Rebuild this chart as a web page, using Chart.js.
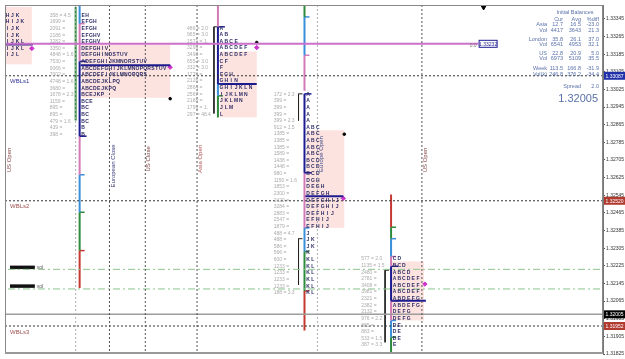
<!DOCTYPE html>
<html><head><meta charset="utf-8">
<script src="https://cdn.jsdelivr.net/npm/chart.js@4.4.1/dist/chart.umd.min.js"></script>
<style>html,body{margin:0;padding:0;background:#fff;overflow:hidden}canvas{display:block}</style>
</head><body>
<canvas id="c" width="625" height="359" style="width:625px;height:359px"></canvas>
<script>
// ================= DATA =================
const priceTicks = [1.33345,1.33265,1.33185,1.33105,1.33025,1.32945,1.32865,1.32785,1.32705,1.32625,1.32545,1.32465,1.32385,1.32305,1.32225,1.32145,1.32065,1.31985,1.31905,1.31825];
const priceMin = 1.31825, priceMax = 1.33408;

const levelNames  = ["WBLs1","WBLs2","WBLs3"];
const levelPrices = [1.33087,1.32520,1.31952];
const lastPrice   = 1.32005;
const volLevelNames  = ["vol","vol"];
const volLevelPrices = [1.32209,1.32120];
const volLabelPrices = [1.32218,1.32133];
const poolLinePrice  = 1.33232;
const poolLineLabel  = "1.33232";
const poolLineDiff   = "0.0";

const sessionNames = ["US Open","European Close","US Close","Asia Open","Europe Open","US Open"];
const sessionSlots = [1,105,141,193,314,419];
const sessionLabelPrices = [1.32705,1.32678,1.32710,1.32710,1.32732,1.32705];
const extraGridSlots = [71];

const rowStep = 0.0003;

const p1Letters = ["HJK","HIJK","IJK","IJK","IJKL","IJKL","IJL"];
const p1Top = 1.33363, p1Poc = 1.33229, p1VA = [1.33399,1.33139];

const p2Letters = ["EH","EFGH","EFGH","EFGHV","EFGHV","DEFGHIV","DEFGHINOSTUV","ADEFGHIJKMNORSTUV","ABCDEFGHIJKLMNOPQRSTUV","ABCDEFIJKLMNOPQRS","ABCDEJKLPQ","ABCDEJKPQ","BCEJKP","BCE","BC","BC","BC","B","B"];
const p2Vols = ["358 = 4.5","1699 =","2091 =","2186 =","3282 =","3350 =","4848 = 1.6","7530 =","9066 =","7002 =","4748 = 1.6","3680 =","1678 = 2.3","1159 =","895 =","895 =","479 = 1.6","439 =","398 ="];
const p2Top = 1.33363, p2Poc = 1.33135, p2VA = [1.33229,1.32987];

const p3Letters = ["A","AB","ABCE","ABCDEF","ABCDEF","CF","F","FGH","GHIN","GHIJKLN","IJKLMN","JKLMN","JLM","L"];
const p3Vols = ["486 = 2.0","965 = 3.0","1571 = 1.","3299 =","3498 =","655 = 3.0","332 = 3.0","1776 =","2126 =","2864 =","2567 =","2188 =","1796 = 1.","297 = 48.4"];
const p3Top = 1.33305, p3Poc = 1.33050, p3VA = [1.33197,1.32898];

const p4Letters = ["A","A","A","A","A","ABC","ABC","ABC","ABC","ABC","BCD","BCD","BCD","DGH","DEGH","DEFGH","DEFGHIJ","DEFGHIJ","DEFHIJ","EFHIJ","EFHIJ","J","JK","JK","K","KL","KL","KL","KL","KL","KL"];
const p4Vols = ["172 = 2.3","399 =","399 =","399 =","399 = 2.3","912 = 1.5","1385 =","1385 =","1385 =","1589 =","1438 =","1448 =","980 =","1150 = 1.6","1853 =","2300 =","2420 =","3284 =","2883 =","2547 =","1879 =","488 = 4.7","488 =","586 =","566 =","600 =","1233 =","1233 =","1233 =","1233 =","188 = 3.3"];
const p4Top = 1.33005, p4Poc = 1.32540, p4VA = [1.32840,1.32397];

const p5Letters = ["CD","BCD","ABCD","ABCDEF","ABCDEF","ABCDEF","ABDEFG","ABDEFG","DEFG","DEFG","DE","DE","DE","E"];
const p5Vols = ["577 = 2.0","1135 = 1.5","2480 =","2781 =","3408 =","3981 =","2321 =","2382 =","2132 =","976 = 2.2","885 =","883 =","533 = 1.5","387 = 3.3"];
const p5Top = 1.32258, p5Poc = 1.32066, p5VA = [1.32245,1.31977];

// period bars (price breaks, period keys)
const p2BarBreaks = [1.33408,1.33323,1.33153,1.32813,1.32638,1.32468,1.32294,1.32124];
const p2BarKeys   = ["b","p","n","p","b","g","r"];
const p2PrevBar   = [1.33399,1.32884];
const p3BarBreaks = [1.33408,1.33309,1.33050,1.32996,1.32898];
const p3BarKeys   = ["p","n","b","g"];
const p4BarBreaks = [1.33408,1.33354,1.33180,1.33019,1.33005,1.32647,1.32397,1.32290,1.32111,1.31932];
const p4BarKeys   = ["g","b","p",null,"n","p","b","g","r"];
const p5BarBreaks = [1.32549,1.32400,1.32348,1.32267,1.32223,1.32066,1.31977,1.31901,1.31825];
const p5BarKeys   = ["r","g","b","p","n","p","b","g"];
// initial-balance ranges (black)
const p3Range = [[1.33309,1.32916]];
const p4Range = [[1.33005,1.32884],[1.32348,1.32138]];
const p5Range = [[1.32205,1.31878]];

// markers
const vaMidPrices  = [1.33211,1.33126,1.33215,1.32531,1.32142];
const vwapPrices   = [1.32983,1.33238,1.32822];
const markerTopPrice = 1.33399;

// info panel
const ibTitle = "Initial Balances";
const ibHead = ["Cur","Avg","%diff"];
const ibNames = ["Asia","Vol","London","Vol","US","Vol","Week","Vol(k)"];
const ibCur  = ["12.7","4417","35.8","6541","22.8","6973","113.5","246.8"];
const ibAvg  = ["16.5","3643","26.1","4953","20.9","5109","166.8","376.2"];
const ibDiff = ["-23.0","21.3","37.0","32.1","5.0","35.5","-31.9","-34.4"];
const spreadValue = "2.0";

// ================= LAYOUT / STYLE =================
const FONT = '"Liberation Sans", Arial, sans-serif';
const ST = {
  va:'#fde3df', letter:'#2d2d66', vol:'#ababab',
  b:'#3a8fd8', p:'#d27ab6', n:'#1c1c90', g:'#2f8a3c', r:'#c43a30', k:'#222',
  level:'#333', last:'#9c9c9c', volLine:'#8cc48c', session:'#555', grid:'#b0b0b0',
  pool:'#cc70cc', magenta:'#cc33cc', info:'#5a72aa'
};
const X0 = 0, X1 = 601;
const PROFILES = [
  {letters:p1Letters, top:p1Top, poc:p1Poc, va:p1VA, slot:1,   step:5.0, vaSlots:[0,27],   pocSlots:[0,28]},
  {letters:p2Letters, vols:p2Vols, top:p2Top, poc:p2Poc, va:p2VA, slot:77,  step:3.9, volSlot:45,  vaSlots:[77,166],  pocSlots:[76,166]},
  {letters:p3Letters, vols:p3Vols, top:p3Top, poc:p3Poc, va:p3VA, slot:216, step:4.9, volSlot:183, vaSlots:[216,253], pocSlots:[214,253]},
  {letters:p4Letters, vols:p4Vols, top:p4Top, poc:p4Poc, va:p4VA, slot:303, step:4.9, volSlot:270, vaSlots:[303,341], pocSlots:[301,340]},
  {letters:p5Letters, vols:p5Vols, top:p5Top, poc:p5Poc, va:p5VA, slot:390, step:4.7, volSlot:358, vaSlots:[388,421], pocSlots:[388,423]}
];
const BARS = [
  {slot:75, breaks:p2BarBreaks, keys:p2BarKeys},
  {slot:214, breaks:p3BarBreaks, keys:p3BarKeys},
  {slot:301, breaks:p4BarBreaks, keys:p4BarKeys},
  {slot:388, breaks:p5BarBreaks, keys:p5BarKeys}
];
const RANGES = [{slot:210, r:p3Range},{slot:295, r:p4Range},{slot:382, r:p5Range}];
const vaMidSlots = [27,166,253,340,422];
const vwapSlots = [166,253,341];
const markerTopSlot = 481;
const poolBoxSlot = 476;
const sessionColors = ['#8a4646','#3a3a7a','#7a3a3a','#b05050','#3a4a8a','#8a4646'];
const levelColors = ['#30309a','#a05050','#a05050'];
const levelBoxColors = ['#2030a8','#b03a2e','#b03a2e'];

// ================= DATASETS =================
const datasets = [];
function line(pts,color,w,dash){
  datasets.push({type:'line',data:pts,borderColor:color,borderWidth:w,borderDash:dash||[],pointRadius:0,fill:false,tension:0});
}
sessionSlots.forEach((s,i)=>{ if(i===0) return; line([{x:s,y:priceMax},{x:s,y:priceMin}], s===314?ST.grid:ST.session, 1, [2,2]); });
extraGridSlots.forEach(s=>line([{x:s,y:priceMax},{x:s,y:priceMin}], ST.grid, 1, [2,2]));
levelPrices.forEach(p=>line([{x:X0,y:p},{x:X1,y:p}], ST.level, 1, [2,2]));
line([{x:X0,y:lastPrice},{x:X1,y:lastPrice}], ST.last, 1.5);
volLevelPrices.forEach(p=>line([{x:X0+3,y:p},{x:X1,y:p}], ST.volLine, 1, [7,3,2,3]));
line([{x:X0,y:poolLinePrice},{x:poolBoxSlot,y:poolLinePrice}], ST.pool, 2);
volLabelPrices.forEach(p=>line([{x:5,y:p},{x:30,y:p}], '#111', 3.5));
line([{x:71,y:p2PrevBar[0]},{x:71,y:p2PrevBar[1]}], ST.g, 2);
BARS.forEach(b=>{
  for(let i=0;i<b.keys.length;i++){
    const k=b.keys[i]; if(!k) continue;
    const t=b.breaks[i], btm=b.breaks[i+1];
    line([{x:b.slot,y:t},{x:b.slot,y:btm}], ST[k], 2);
    if(i>0) line([{x:b.slot,y:t},{x:b.slot+(k==='n'?7:5),y:t}], ST[k], 1.5);
    if(k==='n') line([{x:b.slot,y:btm},{x:b.slot+7,y:btm}], ST[k], 1.5);
  }
});
RANGES.forEach(g=>g.r.forEach(([t,b])=>{
  line([{x:g.slot,y:t},{x:g.slot,y:b}], ST.k, 1);
  line([{x:g.slot,y:t},{x:g.slot+4,y:t}], ST.k, 1);
}));
PROFILES.forEach(p=>line([{x:p.pocSlots[0],y:p.poc},{x:p.pocSlots[1],y:p.poc}], ST.n, 2));
datasets.push({type:'line',showLine:false,data:vaMidPrices.map((p,i)=>({x:vaMidSlots[i],y:p})),pointStyle:'rectRot',pointRadius:2.2,pointBackgroundColor:ST.magenta,pointBorderColor:ST.magenta});
datasets.push({type:'line',showLine:false,data:vwapPrices.map((p,i)=>({x:vwapSlots[i],y:p})),pointStyle:'circle',pointRadius:1.3,pointBackgroundColor:'#000',pointBorderColor:'#000'});
datasets.push({type:'line',showLine:false,data:[{x:markerTopSlot,y:markerTopPrice}],pointStyle:'triangle',rotation:180,pointRadius:3,pointBackgroundColor:'#000',pointBorderColor:'#000'});

// ================= PLUGIN =================
const mp = {
  id:'mp',
  beforeDatasetsDraw(chart){
    const {ctx,scales:{x,y}}=chart;
    ctx.save();
    ctx.fillStyle=ST.va;
    PROFILES.forEach(p=>{
      const x0=x.getPixelForValue(p.vaSlots[0]), x1=x.getPixelForValue(p.vaSlots[1]);
      const y0=y.getPixelForValue(p.va[0]), y1=y.getPixelForValue(p.va[1]);
      ctx.fillRect(x0,y0,x1-x0,y1-y0);
    });
    ctx.restore();
  },
  afterDatasetsDraw(chart){
    const {ctx,scales:{x,y},chartArea:a}=chart;
    ctx.save();
    ctx.beginPath(); ctx.rect(a.left,a.top,a.right-a.left,a.bottom-a.top); ctx.clip();
    ctx.textBaseline='middle';
    PROFILES.forEach(p=>{
      ctx.font='bold 5px '+FONT; ctx.fillStyle=ST.letter; ctx.textAlign='center';
      p.letters.forEach((row,i)=>{
        const py=y.getPixelForValue(p.top-i*rowStep)+0.5;
        for(let k=0;k<row.length;k++) ctx.fillText(row[k], x.getPixelForValue(p.slot+k*p.step)+1.5, py);
      });
      if(p.vols){
        ctx.font='5px '+FONT; ctx.fillStyle=ST.vol; ctx.textAlign='left';
        p.vols.forEach((v,i)=>ctx.fillText(v, x.getPixelForValue(p.volSlot), y.getPixelForValue(p.top-i*rowStep)+0.5));
      }
    });
    ctx.font='6px '+FONT; ctx.textAlign='left';
    levelNames.forEach((n,i)=>{ ctx.fillStyle=levelColors[i]; ctx.fillText(n, x.getPixelForValue(5), y.getPixelForValue(levelPrices[i])+6); });
    ctx.fillStyle='#555'; ctx.font='5px '+FONT;
    volLevelNames.forEach((n,i)=>ctx.fillText(n, x.getPixelForValue(32), y.getPixelForValue(volLabelPrices[i])+0.5));
    ctx.font='6px '+FONT;
    sessionNames.forEach((n,i)=>{
      ctx.save();
      ctx.translate(x.getPixelForValue(sessionSlots[i])+3.5, y.getPixelForValue(sessionLabelPrices[i]));
      ctx.rotate(-Math.PI/2); ctx.textAlign='center'; ctx.fillStyle=sessionColors[i];
      ctx.fillText(n,0,0); ctx.restore();
    });
    const bx=x.getPixelForValue(poolBoxSlot), by=y.getPixelForValue(poolLinePrice);
    ctx.fillStyle='#fff'; ctx.fillRect(bx,by-4,19,8);
    ctx.strokeStyle=ST.n; ctx.lineWidth=1; ctx.strokeRect(bx+0.5,by-3.5,18,7);
    ctx.fillStyle=ST.n; ctx.font='5px '+FONT; ctx.textAlign='center'; ctx.fillText(poolLineLabel,bx+9.5,by+0.5);
    ctx.fillStyle='#777'; ctx.textAlign='right'; ctx.fillText(poolLineDiff,bx-2,by+1.5);
    const R=a.right;
    ctx.fillStyle=ST.info; ctx.font='5.5px '+FONT;
    ctx.textAlign='center'; ctx.fillText(ibTitle,R-28,12);
    ctx.textAlign='right';
    const cols=[R-40,R-22,R-4];
    ibHead.forEach((h,i)=>ctx.fillText(h,cols[i],19));
    const rowsY=[24.5,30.5,39,44.5,53,58.5,68,74];
    ibNames.forEach((n,i)=>{
      ctx.fillText(n,R-56,rowsY[i]);
      ctx.fillText(ibCur[i],cols[0],rowsY[i]);
      ctx.fillText(ibAvg[i],cols[1],rowsY[i]);
      ctx.fillText(ibDiff[i],cols[2],rowsY[i]);
    });
    ctx.fillText("Spread",R-22,86); ctx.fillText(spreadValue,R-4,86);
    ctx.font='11px '+FONT; ctx.fillText(lastPrice.toFixed(5),R-5,98.5);
    ctx.restore();
  },
  afterDraw(chart){
    const {ctx,scales:{y},chartArea:a}=chart;
    ctx.save();
    ctx.strokeStyle='#888'; ctx.lineWidth=1;
    ctx.strokeRect(a.left+0.5,a.top+0.5,a.right-a.left-1,a.bottom-a.top-1);
    ctx.fillStyle='#999'; ctx.fillRect(a.left,a.bottom-2,a.right-a.left,2);
    const box=(p,bg,txt)=>{
      const py=y.getPixelForValue(p);
      ctx.fillStyle=bg; ctx.fillRect(a.right+1,py-4,22,8);
      ctx.fillStyle='#fff'; ctx.font='5px '+FONT; ctx.textAlign='left'; ctx.textBaseline='middle';
      ctx.fillText(txt,a.right+2.5,py+0.5);
    };
    levelPrices.forEach((p,i)=>box(p,levelBoxColors[i],p.toFixed(5)));
    box(lastPrice,'#000',lastPrice.toFixed(5));
    ctx.restore();
  }
};

new Chart(document.getElementById('c'),{
  type:'line',
  data:{datasets},
  options:{
    responsive:false, animation:false, devicePixelRatio:1,
    layout:{padding:{left:2,top:3,right:0,bottom:2}},
    plugins:{legend:{display:false},tooltip:{enabled:false}},
    scales:{
      x:{type:'linear',min:X0,max:X1,display:false},
      y:{type:'linear',position:'right',min:priceMin,max:priceMax,
        afterBuildTicks:ax=>{ax.ticks=priceTicks.map(v=>({value:v}));},
        afterFit:ax=>{ax.width=22;},
        ticks:{callback:v=>Number(v).toFixed(5),font:{size:5,family:FONT},color:'#333',padding:1,autoSkip:false,maxRotation:0},
        grid:{drawOnChartArea:false,drawTicks:true,tickLength:2,color:'#555'},
        border:{display:true,color:'#777'}
      }
    }
  },
  plugins:[mp]
});
</script>
</body></html>
